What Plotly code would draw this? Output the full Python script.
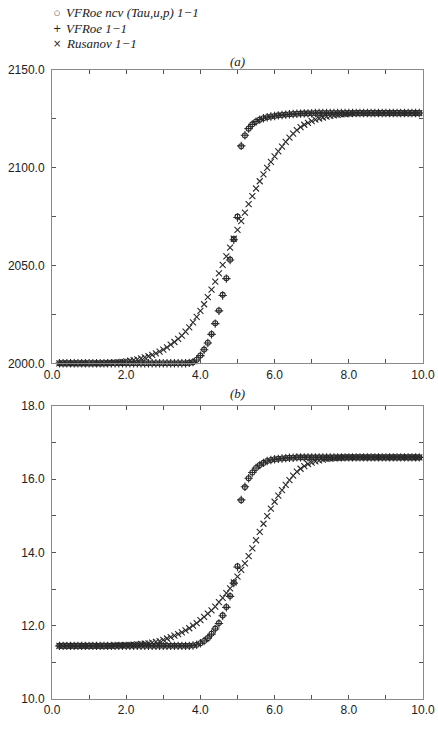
import plotly.graph_objects as go

# grid of cell positions (0.2 .. 9.9, step 0.1)
x = [round(0.1 * i, 1) for i in range(2, 100)]

# ---- panel (a) ----
a_vfroe_ncv = ([2000.0] * 35 +
    [2000.2, 2000.6, 2001.8, 2004.0, 2007.0, 2010.5, 2015.0, 2020.5, 2027.0, 2035.0,
     2043.5, 2053.0, 2063.5, 2075.0, 2111.0, 2116.5, 2120.0, 2122.2, 2123.6, 2124.6,
     2125.3, 2125.8, 2126.2, 2126.5, 2126.8, 2127.0, 2127.2, 2127.4, 2127.5, 2127.6,
     2127.7, 2127.8, 2127.8, 2127.9] +
    [2128.0] * 29)
a_vfroe = ([2000.0] * 35 +
    [2000.2, 2000.6, 2001.7, 2003.9, 2006.9, 2010.4, 2014.8, 2020.3, 2026.8, 2034.7,
     2043.3, 2052.8, 2063.2, 2074.6, 2111.2, 2116.6, 2120.0, 2122.2, 2123.6, 2124.6,
     2125.3, 2125.8, 2126.2, 2126.5, 2126.8, 2127.0, 2127.2, 2127.4, 2127.5, 2127.6,
     2127.7, 2127.8, 2127.8, 2127.9] +
    [2128.0] * 29)
a_rusanov = ([2000.0] * 13 +
    [2000.1, 2000.2, 2000.3, 2000.5, 2000.7, 2001.0, 2001.3, 2001.6, 2002.0, 2002.5,
     2003.0, 2003.6, 2004.3, 2005.1, 2006.0, 2007.0, 2008.2, 2009.5, 2010.9, 2012.5,
     2014.2, 2016.2, 2018.4, 2020.9, 2023.7, 2026.8, 2030.2, 2033.8, 2037.7, 2041.8,
     2046.0, 2050.3, 2054.7, 2059.2, 2063.7, 2068.2, 2072.7, 2077.1, 2081.4, 2085.5,
     2089.4, 2093.1, 2096.6, 2099.9, 2103.0, 2105.8, 2108.4, 2110.8, 2113.2, 2115.4,
     2117.5, 2119.3, 2120.8, 2122.0, 2123.0, 2123.9, 2124.6, 2125.2, 2125.7, 2126.1,
     2126.5, 2126.8, 2127.1, 2127.3, 2127.5, 2127.7, 2127.8, 2127.9] +
    [2128.0] * 17)

# ---- panel (b) ----
b_vfroe_ncv = ([11.45] * 36 +
    [11.46, 11.48, 11.52, 11.58, 11.66, 11.78, 11.92, 12.07, 12.28, 12.51,
     12.81, 13.17, 13.62, 15.42, 15.78, 16.02, 16.18, 16.30, 16.38, 16.44,
     16.49, 16.52, 16.54, 16.55, 16.56, 16.57, 16.58, 16.58] +
    [16.59] * 34)
b_vfroe = ([11.45] * 36 +
    [11.46, 11.48, 11.52, 11.58, 11.66, 11.77, 11.91, 12.06, 12.27, 12.50,
     12.80, 13.16, 13.60, 15.43, 15.79, 16.02, 16.18, 16.30, 16.38, 16.44,
     16.49, 16.52, 16.54, 16.55, 16.56, 16.57, 16.58, 16.58] +
    [16.59] * 34)
b_rusanov = ([11.45] * 13 +
    [11.45, 11.45, 11.46, 11.46, 11.46, 11.47, 11.47, 11.48, 11.49, 11.50,
     11.51, 11.52, 11.54, 11.56,
     11.58, 11.61, 11.65, 11.69, 11.73, 11.77, 11.82, 11.87, 11.93, 12.00,
     12.07, 12.15, 12.24, 12.33, 12.42, 12.52, 12.64, 12.76, 12.89, 13.02,
     13.18, 13.34, 13.52, 13.70, 13.90, 14.11, 14.33, 14.56, 14.78, 14.99,
     15.19, 15.38, 15.55, 15.70, 15.84, 15.97, 16.09, 16.20, 16.28, 16.35,
     16.41, 16.45, 16.48, 16.51, 16.53, 16.55, 16.56, 16.57, 16.58, 16.58,
     16.59] +
    [16.59] * 20)

series_names = ["VFRoe ncv (Tau,u,p) 1\u22121", "VFRoe 1\u22121", "Rusanov 1\u22121"]
legend_symbols = ["\u25cb", "+", "\u00d7"]
panel_labels = ["(a)", "(b)"]
x_ticks = [0.0, 2.0, 4.0, 6.0, 8.0, 10.0]
a_ticks = [2000.0, 2050.0, 2100.0, 2150.0]
b_ticks = [10.0, 12.0, 14.0, 16.0, 18.0]

W, H = 438, 735
ML, MR, MT, MB = 52, 15, 70, 36
PW, PH = W - ML - MR, H - MT - MB

MC = "#2a2a2a"
styles = [
    dict(symbol="circle-open", size=5, line=dict(width=1.1, color=MC), color=MC),
    dict(symbol="cross-thin-open", size=6, line=dict(width=1.1, color=MC), color=MC),
    dict(symbol="x-thin-open", size=6, line=dict(width=1.1, color=MC), color=MC),
]

fig = go.Figure()
panels = [(a_vfroe_ncv, a_vfroe, a_rusanov), (b_vfroe_ncv, b_vfroe, b_rusanov)]
for p, data in enumerate(panels):
    for s, ys in enumerate(data):
        fig.add_trace(go.Scatter(
            x=x, y=ys, mode="markers", name=series_names[s], marker=styles[s],
            showlegend=False, xaxis="x" if p == 0 else "x2", yaxis="y" if p == 0 else "y2",
            cliponaxis=False))

def py2paper(py):
    return (H - MB - py) / PH

def px2paper(px):
    return (px - ML) / PW

top_dom = [py2paper(363.3), 1.0]
bot_dom = [0.0, py2paper(405.7)]

SANS = "Liberation Sans"
SERIF = "Liberation Serif"

minor_common = dict(ticks="inside", ticklen=4, tickcolor="#555555", tickwidth=1, showgrid=False)
axis_common = dict(
    showline=True, linecolor="#8a8a8a", linewidth=1, mirror="ticks",
    ticks="inside", ticklen=4, tickcolor="#555555", tickwidth=1,
    showgrid=False, zeroline=False, tickformat=".1f", automargin=False,
    tickfont=dict(family=SANS, size=12, color="#222222"),
)

fig.update_layout(
    width=W, height=H, margin=dict(l=ML, r=MR, t=MT, b=MB),
    paper_bgcolor="white", plot_bgcolor="white",
    font=dict(family=SANS),
    xaxis=dict(axis_common, range=[0, 10], tickvals=x_ticks, minor=dict(minor_common, dtick=1.0, tick0=0),
               domain=[0, 1], anchor="y"),
    yaxis=dict(axis_common, range=[2000, 2150], tickvals=a_ticks, minor=dict(minor_common, dtick=25, tick0=2000),
               domain=top_dom, anchor="x", ticklabelstandoff=4),
    xaxis2=dict(axis_common, range=[0, 10], tickvals=x_ticks, minor=dict(minor_common, dtick=1.0, tick0=0),
                domain=[0, 1], anchor="y2"),
    yaxis2=dict(axis_common, range=[10, 18], tickvals=b_ticks, minor=dict(minor_common, dtick=1.0, tick0=10),
                domain=bot_dom, anchor="x2", ticklabelstandoff=4),
)

rows_py = [13, 28, 43]
for i in range(3):
    fig.add_annotation(xref="paper", yref="paper", x=px2paper(57), y=py2paper(rows_py[i]),
                       text=legend_symbols[i], showarrow=False, xanchor="center", yanchor="middle",
                       font=dict(family="DejaVu Sans", size=7 if i == 0 else 10, color="#222222"))
    fig.add_annotation(xref="paper", yref="paper", x=px2paper(64), y=py2paper(rows_py[i]),
                       text="<i>" + series_names[i] + "</i>", showarrow=False, xanchor="left", yanchor="middle",
                       font=dict(family=SERIF, size=13, color="#222222"))

for lbl, pyv in zip(panel_labels, [61, 393]):
    fig.add_annotation(xref="paper", yref="paper", x=px2paper(237), y=py2paper(pyv),
                       text="<i>" + lbl + "</i>", showarrow=False, xanchor="center", yanchor="middle",
                       font=dict(family=SERIF, size=13, color="#222222"))

fig.write_html("out.html")
